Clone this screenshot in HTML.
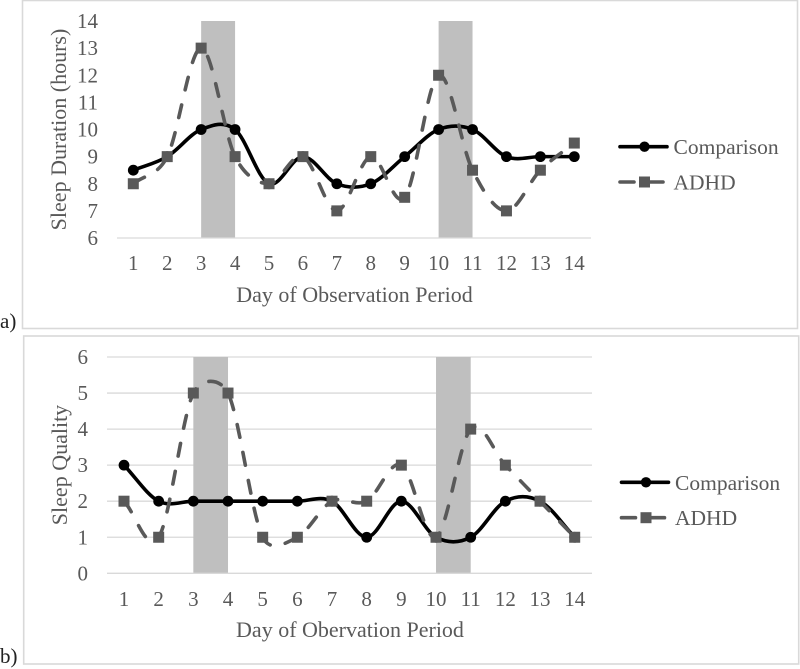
<!DOCTYPE html>
<html>
<head>
<meta charset="utf-8">
<title>Sleep duration and quality</title>
<style>
html,body{margin:0;padding:0;background:#fff;}
#page{position:relative;width:800px;height:669px;overflow:hidden;background:#fff;}
svg{display:block;filter:blur(0.35px);}
text{font-family:"Liberation Serif",serif;fill:#595959;}
</style>
</head>
<body>
<div id="page">
<svg id="fig" xmlns="http://www.w3.org/2000/svg" width="800" height="669" viewBox="0 0 800 669"></svg>
</div>
<script>
const days = ['1','2','3','4','5','6','7','8','9','10','11','12','13','14'];
const durationComparison = [8.5,9,10,10,8,9,8,8,9,10,10,9,9,9];
const durationAdhd = [8,9,13,9,8,9,7,9,7.5,12,8.5,7,8.5,9.5];
const durationTicks = [6,7,8,9,10,11,12,13,14];
const qualityComparison = [3,2,2,2,2,2,2,1,2,1,1,2,2,1];
const qualityAdhd = [2,1,5,5,1,1,2,2,3,1,4,3,2,1];
const qualityTicks = [0,1,2,3,4,5,6];
const shadedDays = [3,10];

const NS = 'http://www.w3.org/2000/svg';
const fig = document.getElementById('fig');

function make(parent, tag, attrs, txt) {
  const n = document.createElementNS(NS, tag);
  for (const k in attrs) n.setAttribute(k, attrs[k]);
  if (txt !== undefined) n.textContent = txt;
  parent.appendChild(n);
  return n;
}

function dist(a, b) { return Math.hypot(b[0] - a[0], b[1] - a[1]); }

function smoothPath(pts) {
  let d = 'M' + pts[0][0] + ' ' + pts[0][1];
  const n = pts.length;
  for (let i = 0; i < n - 1; i++) {
    const p0 = pts[i === 0 ? 0 : i - 1], p1 = pts[i], p2 = pts[i + 1], p3 = pts[i + 2 >= n ? n - 1 : i + 2];
    const d02 = dist(p0, p2), d12 = dist(p1, p2), d13 = dist(p1, p3);
    let f1 = i === 0 ? 1 / 3 : 1 / 6;
    let f2 = i === n - 2 ? 1 / 3 : 1 / 6;
    if (d02 / 6 >= d12 / 2) f1 = d12 / (2 * d02);
    if (d13 / 6 >= d12 / 2) f2 = d12 / (2 * d13);
    const c1 = [p1[0] + (p2[0] - p0[0]) * f1, p1[1] + (p2[1] - p0[1]) * f1];
    const c2 = [p2[0] - (p3[0] - p1[0]) * f2, p2[1] - (p3[1] - p1[1]) * f2];
    d += 'C' + c1[0].toFixed(2) + ' ' + c1[1].toFixed(2) + ' ' + c2[0].toFixed(2) + ' ' + c2[1].toFixed(2) + ' ' + p2[0].toFixed(2) + ' ' + p2[1].toFixed(2);
  }
  return d;
}

function drawChart(c) {
  const g = make(fig, 'g', {});
  
  

  const x = function (day) { return c.x1 + (day - 1) * (c.x14 - c.x1) / 13; };
  const y = function (v) { return c.yBottom - (v - c.vMin) * (c.yBottom - c.yTop) / (c.vMax - c.vMin); };

  const frame = make(g, 'rect', {x: c.fx, y: c.fy, width: c.fw, height: c.fh, fill: '#fff', stroke: '#d9d9d9', 'stroke-width': 1.6});
  
  

  if (c.grid) {
    c.ticks.forEach(function (t) {
      if (t === c.vMin) return;
      const gl = make(g, 'line', {x1: c.axL, x2: c.axR, y1: y(t), y2: y(t), stroke: '#d9d9d9', 'stroke-width': 1.3});
      
      
    });
  }

  shadedDays.forEach(function (d) {
    const band = make(g, 'rect', {x: x(d), y: y(c.vMax), width: x(d + 1) - x(d), height: y(c.vMin) - y(c.vMax), fill: '#bfbfbf'});
    
    
  });

  const axis = make(g, 'line', {x1: c.axL, x2: c.axR, y1: y(c.vMin), y2: y(c.vMin), stroke: '#d9d9d9', 'stroke-width': 1.3});
  
  

  c.ticks.forEach(function (t) {
    const lab = make(g, 'text', {x: c.yTickX, y: y(t) + 7, 'text-anchor': 'end', 'font-size': 21}, String(t));
    
    
  });

  days.forEach(function (d, i) {
    const lab = make(g, 'text', {x: x(i + 1), y: c.xTickY, 'text-anchor': 'middle', 'font-size': 21}, d);
    
    
  });

  const xt = make(g, 'text', {x: c.xTitleX, y: c.xTitleY, 'text-anchor': 'middle', 'font-size': c.titleSize}, c.xTitle);
  
  

  const yt = make(g, 'text', {transform: 'translate(' + c.yTitleX + ' ' + c.yTitleY + ') rotate(-90)', 'text-anchor': 'middle', 'font-size': c.titleSize}, c.yTitle);
  
  

  const compPts = c.comparison.map(function (v, i) { return [x(i + 1), y(v)]; });
  const adhdPts = c.adhd.map(function (v, i) { return [x(i + 1), y(v)]; });

  const compLine = make(g, 'path', {d: smoothPath(compPts), fill: 'none', stroke: '#000', 'stroke-width': 3.6, 'stroke-linecap': 'round'});
  
  
  compPts.forEach(function (p) {
    const m = make(g, 'circle', {cx: p[0], cy: p[1], r: 5.4, fill: '#000'});
    
    
  });

  const adhdLine = make(g, 'path', {d: smoothPath(adhdPts), fill: 'none', stroke: '#595959', 'stroke-width': 3.6, 'stroke-linecap': 'round', 'stroke-dasharray': '12.9 15.5'});
  
  
  adhdPts.forEach(function (p) {
    const m = make(g, 'rect', {x: p[0] - 5.5, y: p[1] - 5.5, width: 11, height: 11, fill: '#595959'});
    
    
  });

  const lg = make(g, 'g', {});
  
  

  const l1 = make(lg, 'line', {x1: c.lgX, x2: c.lgX + 47, y1: c.lgY1, y2: c.lgY1, stroke: '#000', 'stroke-width': 3.6, 'stroke-linecap': 'round'});
  
  
  const l1m = make(lg, 'circle', {cx: c.lgX + 24.5, cy: c.lgY1, r: 5.2, fill: '#000'});
  
  
  const l1t = make(lg, 'text', {x: c.lgX + 53.5, y: c.lgY1 + 7.5, 'font-size': 21.5}, 'Comparison');
  
  

  const l2a = make(lg, 'line', {x1: c.lgX, x2: c.lgX + 14, y1: c.lgY2, y2: c.lgY2, stroke: '#595959', 'stroke-width': 3.6, 'stroke-linecap': 'round'});
  
  
  const l2b = make(lg, 'line', {x1: c.lgX + 24, x2: c.lgX + 43, y1: c.lgY2, y2: c.lgY2, stroke: '#595959', 'stroke-width': 3.6, 'stroke-linecap': 'round'});
  
  
  const l2m = make(lg, 'rect', {x: c.lgX + 19, y: c.lgY2 - 5.5, width: 11, height: 11, fill: '#595959'});
  
  
  const l2t = make(lg, 'text', {x: c.lgX + 53.5, y: c.lgY2 + 7.5, 'font-size': 21.5}, 'ADHD');
  
  

  const tag = make(g, 'text', {x: 0, y: c.tagY, 'font-size': 21, style: 'fill:#222'}, c.tag);
  
  
}

drawChart({
  name: 'sleep-duration-chart', tag: 'a)', tagY: 328,
  fx: 22.5, fy: 0.5, fw: 775, fh: 328,
  x1: 133.3, x14: 574.3, yTop: 21, yBottom: 238, vMin: 6, vMax: 14,
  axL: 117, axR: 591, grid: false, ticks: durationTicks,
  comparison: durationComparison, adhd: durationAdhd,
  yTickX: 98, xTickY: 270, titleSize: 22,
  xTitle: 'Day of Observation Period', xTitleX: 354.5, xTitleY: 302,
  yTitle: 'Sleep Duration (hours)', yTitleX: 66, yTitleY: 129.5,
  lgX: 620, lgY1: 146.7, lgY2: 182
});

drawChart({
  name: 'sleep-quality-chart', tag: 'b)', tagY: 663,
  fx: 23.7, fy: 336, fw: 775, fh: 328,
  x1: 124, x14: 574.7, yTop: 357, yBottom: 573.3, vMin: 0, vMax: 6,
  axL: 107, axR: 592, grid: true, ticks: qualityTicks,
  comparison: qualityComparison, adhd: qualityAdhd,
  yTickX: 88, xTickY: 606, titleSize: 22,
  xTitle: 'Day of Obervation Period', xTitleX: 350, xTitleY: 637,
  yTitle: 'Sleep Quality', yTitleX: 67, yTitleY: 465,
  lgX: 621.5, lgY1: 482.3, lgY2: 517.7
});
</script>
</body>
</html>
